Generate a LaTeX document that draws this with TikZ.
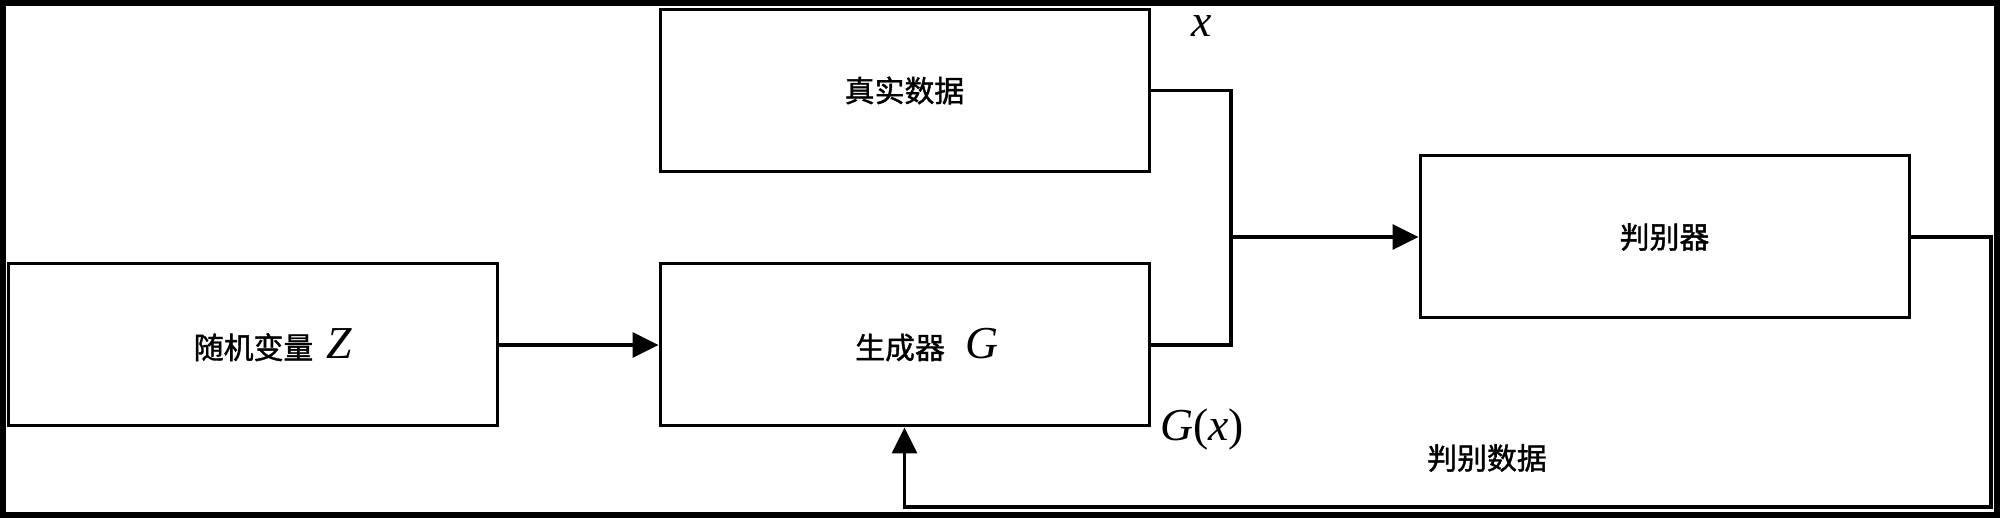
\documentclass[tikz,border=0pt]{standalone}
\usepackage{fontspec}
\setmainfont{Liberation Serif}
\newfontfamily\cjk[BoldFont=Noto Sans CJK SC, BoldFeatures={FakeBold=1.3}]{Noto Sans CJK SC}
\usetikzlibrary{arrows.meta,positioning}
\newcommand{\mvar}[1]{{\rmfamily\mdseries\fontsize{13}{15}\selectfont\itshape #1}}
\newcommand{\mpar}[1]{{\rmfamily\mdseries\fontsize{13}{15}\selectfont #1}}
\tikzset{
	block/.style={draw, line width=0.03cm, minimum width=4.89cm, minimum height=1.62cm, inner sep=0pt, font=\cjk\bfseries\fontsize{8.5}{10}\selectfont},
	wire/.style={line width=0.032cm},
	flow/.style={wire, -{Triangle[length=0.26cm, width=0.25cm]}},
	tag/.style={inner sep=0pt, font=\cjk\bfseries\fontsize{8.5}{10}\selectfont}
}

\begin{document}
\begin{tikzpicture}
		%%%%% START %%%%%
		\useasboundingbox (0, 0) rectangle (20, 5.18);
		\draw[line width=0.06cm] (0.03, 0.03) rectangle (19.97, 5.15);
		
		\node[block] (real) at (9.045, 4.275) {真实数据};
		\node[block] (gen) at (9.045, 1.73) {\hspace*{0.45cm}生成器\hspace{0.7em}\mvar{G}};
		\node[block] (noise) at (2.53, 1.73) {\hspace*{0.4cm}随机变量\hspace{0.45em}\mvar{Z}};
		\node[block] (disc) at (16.645, 2.81) {判别器};
		
		\node[inner sep=0pt] (xlbl) at (12.02, 4.92) {\mvar{x}};
		\node[inner sep=0pt] (gxlbl) at (12.02, 0.88) {\mvar{G}\mpar{(}\mvar{x}\mpar{)}};
		\node[tag] (dlbl) at (14.87, 0.60) {判别数据};
		
		\coordinate (mrg) at (12.31, 2.81);
		\coordinate (fbr) at (19.91, 0.11);
		
		\draw[flow] (noise.east) -- (gen.west);
		\draw[wire] (real.east) -| (mrg) |- (gen.east);
		\draw[flow] (mrg) -- (disc.west);
		\draw[flow] (disc.east) -| (fbr) -| (gen.south);
		%%%%% END %%%%%
\end{tikzpicture}
\end{document}
